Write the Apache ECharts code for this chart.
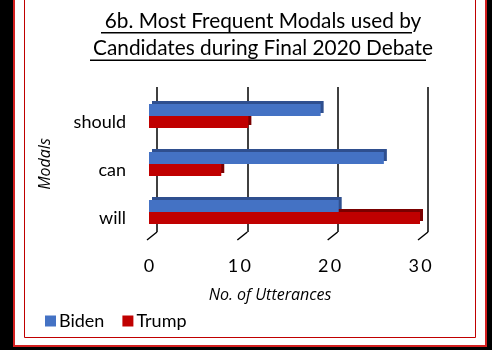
<!DOCTYPE html>
<html>
<head>
<meta charset="utf-8">
<script src="https://cdn.jsdelivr.net/npm/echarts@6/dist/echarts.min.js"></script>
<style>
html, body { margin: 0; padding: 0; background: #000; }
#chart { width: 492px; height: 350px; }
</style>
</head>
<body>
<div id="chart"></div>
<script>
var modals = ['will', 'can', 'should'];
var biden = [21, 26, 19];
var trump = [30, 8, 11];
var xTicks = [0, 10, 20, 30];

var FONT = 'Lato, "DejaVu Sans", sans-serif';

var myChart = echarts.init(document.getElementById('chart'));

myChart.setOption({
	backgroundColor: '#000',
	animation: false,
	// frame and title underlines
	graphic: [
		{ type: 'rect', z: -10, shape: { x: 14, y: -10, width: 472, height: 356 },
			style: { fill: '#fff', stroke: '#d42020', lineWidth: 2 } },
		{ type: 'rect', z: -9, shape: { x: 24.5, y: -10, width: 451, height: 347.5 },
			style: { fill: '#fff', stroke: '#c00000', lineWidth: 1 } },
		{ type: 'rect', shape: { x: 101, y: 32, width: 311, height: 1.5 }, style: { fill: '#000' } },
		{ type: 'rect', shape: { x: 90, y: 59.5, width: 336, height: 1.5 }, style: { fill: '#000' } }
	],
	title: {
		text: '6b. Most Frequent Modals used by\nCandidates during Final 2020 Debate',
		left: 258,
		textAlign: 'center',
		top: 3,
		textStyle: { fontFamily: FONT, fontSize: 20.8, fontWeight: 'normal', color: '#000', lineHeight: 27 }
	},
	legend: {
		left: 40,
		top: 307,
		itemWidth: 11,
		itemHeight: 11,
		itemGap: 18,
		icon: 'rect',
		data: ['Biden', 'Trump'],
		textStyle: { fontFamily: FONT, fontSize: 18, color: '#000', padding: [0, 0, 0, -2] }
	},
	grid: [
		{ left: 149, right: 72, top: 92, bottom: 114 },
		{ left: 157, right: 64, top: 87, bottom: 118 }
	],
	xAxis: [
		{
			gridIndex: 0, type: 'value', min: 0, max: 30, interval: 10,
			axisLine: { show: false }, axisTick: { show: false }, splitLine: { show: false },
			axisLabel: {
				margin: 21, fontFamily: FONT, fontSize: 18, color: '#000',
				formatter: function (v) { return String(v).split('').join('\u2009'); }
			},
			name: 'No. of Utterances', nameLocation: 'middle', nameGap: 51,
			nameTextStyle: { fontFamily: 'Open Sans, sans-serif', fontStyle: 'italic', fontSize: 16, color: '#000', padding: [0, 29, 0, 0] }
		},
		{
			gridIndex: 1, type: 'value', min: 0, max: 30, interval: 10,
			axisLine: { show: false }, axisTick: { show: false }, axisLabel: { show: false },
			splitLine: { show: true, lineStyle: { color: '#000', width: 1.5 } }
		}
	],
	yAxis: [
		{
			gridIndex: 0, type: 'category', data: modals,
			axisLine: { show: false }, axisTick: { show: false },
			axisLabel: {
				margin: 23, fontFamily: FONT, fontSize: 18, color: '#000',
				verticalAlign: 'top', lineHeight: 12
			},
			name: 'Modals', nameLocation: 'middle', nameGap: 96,
			nameTextStyle: { fontFamily: 'Open Sans, sans-serif', fontStyle: 'italic', fontSize: 16, color: '#000' }
		},
		{
			gridIndex: 1, type: 'value', min: 0, max: 1, show: false
		}
	],
	series: [
		{
			name: 'Biden', type: 'bar', xAxisIndex: 0, yAxisIndex: 0,
			data: biden, barWidth: 12, barGap: '0%', z: 4,
			itemStyle: { color: '#4472c4', shadowColor: '#2f4f8f', shadowOffsetX: 3, shadowOffsetY: -3, shadowBlur: 0 }
		},
		{
			name: 'Trump', type: 'bar', xAxisIndex: 0, yAxisIndex: 0,
			data: trump, barWidth: 12, barGap: '0%', z: 3,
			itemStyle: { color: '#c00000', shadowColor: '#7a0000', shadowOffsetX: 3, shadowOffsetY: -3, shadowBlur: 0 }
		},
		{
			// slanted feet of the 3D gridlines
			type: 'custom', xAxisIndex: 1, yAxisIndex: 1, z: 1, silent: true,
			data: xTicks,
			renderItem: function (params, api) {
				var p = api.coord([api.value(0), 0]);
				return {
					type: 'line',
					shape: { x1: p[0], y1: p[1], x2: p[0] - 10, y2: p[1] + 8 },
					style: { stroke: '#000', lineWidth: 1.5 }
				};
			}
		}
	]
});
</script>
</body>
</html>
